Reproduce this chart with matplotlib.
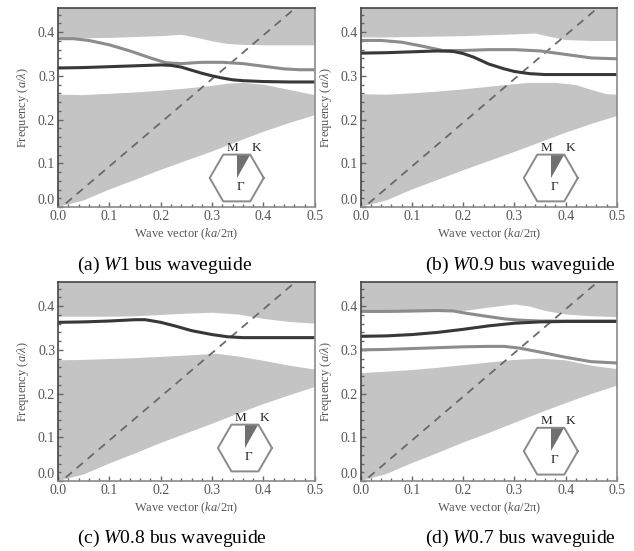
import matplotlib
matplotlib.use("Agg")
import matplotlib.pyplot as plt
import numpy as np
from matplotlib.ticker import MultipleLocator

plt.rcParams['font.family'] = ['Liberation Serif', 'DejaVu Serif']
plt.rcParams['mathtext.fontset'] = 'custom'
plt.rcParams['mathtext.rm'] = 'Liberation Serif'
plt.rcParams['mathtext.it'] = 'Liberation Serif:italic'

band_c = "#c4c4c4"
dark_c = "#383838"
gray_c = "#8c8c8c"
light_c = "#6a6a6a"

# light line (dashed)
light_k = [0.015, 0.5]
light_f = [0.008, 0.493]

# ---- (a) W1 ----
a_up_k = [0, 0.05, 0.1, 0.15, 0.2, 0.24, 0.27, 0.3, 0.33, 0.36, 0.4, 0.45, 0.5]
a_up_f = [0.387, 0.387, 0.388, 0.390, 0.392, 0.395, 0.388, 0.380, 0.374, 0.372, 0.371, 0.371, 0.371]
a_lo_top_k = [0, 0.05, 0.1, 0.15, 0.2, 0.25, 0.3, 0.33, 0.36, 0.4, 0.45, 0.5]
a_lo_top_f = [0.257, 0.256, 0.259, 0.262, 0.266, 0.271, 0.277, 0.282, 0.284, 0.280, 0.268, 0.256]
a_lo_bot_k = [0, 0.05, 0.1, 0.15, 0.2, 0.25, 0.3, 0.35, 0.4, 0.45, 0.5]
a_lo_bot_f = [0, 0.015, 0.040, 0.062, 0.085, 0.106, 0.127, 0.150, 0.172, 0.192, 0.210]
a_dark_k = [0, 0.05, 0.1, 0.15, 0.2, 0.22, 0.24, 0.26, 0.28, 0.3, 0.32, 0.34, 0.36, 0.4, 0.45, 0.5]
a_dark_f = [0.318, 0.319, 0.321, 0.323, 0.325, 0.324, 0.320, 0.313, 0.306, 0.300, 0.295, 0.291, 0.289, 0.287, 0.286, 0.286]
a_gray_k = [0, 0.03, 0.06, 0.1, 0.14, 0.18, 0.21, 0.24, 0.28, 0.32, 0.36, 0.4, 0.44, 0.47, 0.5]
a_gray_f = [0.385, 0.385, 0.381, 0.371, 0.357, 0.341, 0.330, 0.328, 0.331, 0.331, 0.328, 0.322, 0.316, 0.314, 0.314]

# ---- (b) W0.9 ----
b_up_k = [0, 0.05, 0.1, 0.15, 0.2, 0.25, 0.3, 0.34, 0.37, 0.4, 0.45, 0.5]
b_up_f = [0.389, 0.389, 0.390, 0.391, 0.392, 0.394, 0.396, 0.398, 0.390, 0.383, 0.381, 0.381]
b_lo_top_k = [0, 0.05, 0.1, 0.15, 0.2, 0.25, 0.3, 0.33, 0.38, 0.42, 0.45, 0.48, 0.5]
b_lo_top_f = [0.258, 0.257, 0.260, 0.264, 0.269, 0.275, 0.281, 0.284, 0.284, 0.279, 0.268, 0.258, 0.257]
b_lo_bot_k = [0, 0.05, 0.1, 0.15, 0.2, 0.25, 0.3, 0.35, 0.4, 0.45, 0.5]
b_lo_bot_f = [0, 0.015, 0.040, 0.062, 0.084, 0.105, 0.126, 0.148, 0.170, 0.190, 0.208]
b_dark_k = [0, 0.05, 0.1, 0.15, 0.18, 0.2, 0.22, 0.25, 0.28, 0.3, 0.33, 0.36, 0.4, 0.5]
b_dark_f = [0.352, 0.353, 0.355, 0.357, 0.356, 0.351, 0.343, 0.327, 0.316, 0.310, 0.305, 0.303, 0.303, 0.303]
b_gray_k = [0, 0.04, 0.08, 0.12, 0.16, 0.2, 0.25, 0.3, 0.35, 0.4, 0.45, 0.5]
b_gray_f = [0.381, 0.381, 0.377, 0.368, 0.358, 0.358, 0.360, 0.360, 0.357, 0.349, 0.341, 0.339]

# ---- (c) W0.8 ----
c_up_k = [0, 0.05, 0.1, 0.15, 0.2, 0.25, 0.3, 0.35, 0.4, 0.45, 0.5]
c_up_f = [0.377, 0.377, 0.377, 0.378, 0.381, 0.384, 0.386, 0.382, 0.372, 0.365, 0.361]
c_lo_top_k = [0, 0.05, 0.1, 0.15, 0.2, 0.25, 0.31, 0.35, 0.4, 0.45, 0.5]
c_lo_top_f = [0.276, 0.277, 0.279, 0.281, 0.284, 0.287, 0.291, 0.285, 0.275, 0.264, 0.255]
c_lo_bot_k = [0, 0.05, 0.1, 0.15, 0.2, 0.25, 0.3, 0.35, 0.4, 0.45, 0.5]
c_lo_bot_f = [0, 0.015, 0.040, 0.063, 0.087, 0.109, 0.131, 0.154, 0.176, 0.196, 0.215]
c_dark_k = [0, 0.05, 0.1, 0.15, 0.17, 0.2, 0.23, 0.26, 0.3, 0.33, 0.36, 0.4, 0.5]
c_dark_f = [0.363, 0.364, 0.366, 0.369, 0.369, 0.363, 0.354, 0.344, 0.335, 0.330, 0.328, 0.328, 0.328]

# ---- (d) W0.7 ----
d_up_k = [0, 0.05, 0.1, 0.15, 0.2, 0.25, 0.3, 0.33, 0.36, 0.4, 0.45, 0.5]
d_up_f = [0.386, 0.386, 0.387, 0.388, 0.390, 0.398, 0.405, 0.400, 0.390, 0.382, 0.378, 0.376]
d_lo_top_k = [0, 0.05, 0.1, 0.15, 0.2, 0.25, 0.3, 0.35, 0.4, 0.45, 0.5]
d_lo_top_f = [0.247, 0.250, 0.254, 0.259, 0.265, 0.271, 0.277, 0.280, 0.276, 0.264, 0.256]
d_lo_bot_k = [0, 0.05, 0.1, 0.15, 0.2, 0.25, 0.3, 0.35, 0.4, 0.45, 0.5]
d_lo_bot_f = [0, 0.016, 0.041, 0.064, 0.088, 0.110, 0.133, 0.156, 0.178, 0.199, 0.218]
d_dark_k = [0, 0.05, 0.1, 0.15, 0.2, 0.25, 0.3, 0.35, 0.4, 0.45, 0.5]
d_dark_f = [0.331, 0.332, 0.335, 0.340, 0.347, 0.355, 0.361, 0.364, 0.365, 0.365, 0.365]
d_gray1_k = [0, 0.05, 0.1, 0.15, 0.18, 0.21, 0.25, 0.28, 0.31, 0.35, 0.4, 0.5]
d_gray1_f = [0.388, 0.388, 0.389, 0.390, 0.389, 0.383, 0.376, 0.371, 0.368, 0.366, 0.366, 0.366]
d_gray2_k = [0, 0.05, 0.1, 0.15, 0.2, 0.25, 0.28, 0.31, 0.35, 0.4, 0.45, 0.5]
d_gray2_f = [0.300, 0.301, 0.303, 0.305, 0.307, 0.308, 0.308, 0.304, 0.295, 0.283, 0.273, 0.270]

captions = [r"(a) $W$1 bus waveguide", r"(b) $W$0.9 bus waveguide",
            r"(c) $W$0.8 bus waveguide", r"(d) $W$0.7 bus waveguide"]

W, H = 634, 551
fig = plt.figure(figsize=(W / 100, H / 100), dpi=100)


def draw_bz(fig, ax, cx, cy, R=27):
    # small Brillouin-zone sketch (hexagon + irreducible wedge)
    bb = ax.get_position()
    axw, axh = bb.width * W, bb.height * H
    x0 = cx - 1.45 * R / axw
    y0 = cy - 1.15 * R / axh
    ins = ax.inset_axes([x0, y0, 2.9 * R / axw, 2.6 * R / axh])
    ang = np.deg2rad(np.arange(0, 361, 60))
    ins.plot(np.cos(ang), np.sin(ang), color="#8a8a8a", lw=1.4)
    s = np.sqrt(3) / 2
    ins.fill([0, 0, 0.5], [0, s, s], color="#707070", lw=0)
    ins.text(-0.16, s + 0.02, "M", ha="center", va="bottom", fontsize=9.5, color="#222222")
    ins.text(0.72, s + 0.02, "K", ha="center", va="bottom", fontsize=9.5, color="#222222")
    ins.text(0.14, -0.12, "Γ", ha="center", va="top", fontsize=9.5, color="#222222")
    ins.set_xlim(-1.45, 1.45)
    ins.set_ylim(-1.15, 1.45)
    ins.axis("off")


def yfmt(v, p):
    # the 0.0 label is drawn separately, lifted above the x "0.0"
    return "" if abs(v) < 1e-9 else "%.1f" % v


def draw_panel(ax, up, lo_top, lo_bot, modes):
    ax.fill_between(up[0], up[1], 1.0, color=band_c, lw=0)
    ax.fill(lo_top[0] + lo_bot[0][::-1], lo_top[1] + lo_bot[1][::-1], color=band_c, lw=0)
    ax.plot(light_k, light_f, color=light_c, lw=1.3, dashes=(4.5, 3.5))
    for k, f, c in modes:
        ax.plot(k, f, color=c, lw=2.2, solid_capstyle="butt")
    ax.set_xlim(0, 0.5)
    ax.set_ylim(0, 0.455)
    ax.xaxis.set_major_locator(MultipleLocator(0.1))
    ax.xaxis.set_minor_locator(MultipleLocator(0.02))
    ax.yaxis.set_major_locator(MultipleLocator(0.1))
    ax.yaxis.set_minor_locator(MultipleLocator(0.02))
    ax.xaxis.set_major_formatter(lambda v, p: "%.1f" % v)
    ax.yaxis.set_major_formatter(yfmt)
    ax.tick_params(which="both", direction="in", color="#666666", labelcolor="#555555",
                   labelsize=10, top=False, right=False)
    ax.tick_params(which="major", length=3.5, width=1, pad=2)
    ax.tick_params(which="minor", length=2, width=1)
    ax.annotate("0.0", xy=(0, 0), xycoords="axes fraction", xytext=(-2.5, 4.5),
                textcoords="offset points", ha="right", va="center",
                fontsize=10, color="#555555")
    for side in ["left", "top"]:
        ax.spines[side].set_color("#444444")
        ax.spines[side].set_linewidth(1.2)
    for side in ["right", "bottom"]:
        ax.spines[side].set_color("#8a8a8a")
        ax.spines[side].set_linewidth(1.2)
    ax.set_xlabel("Wave vector ($ka$/2π)", fontsize=9, color="#555555", labelpad=3)
    ax.set_ylabel(r"Frequency ($a/\lambda$)", fontsize=9, color="#555555", labelpad=5)


positions = [[0.0915, 0.6243, 0.405, 0.361], [0.569, 0.6243, 0.404, 0.361],
             [0.0915, 0.127, 0.405, 0.361], [0.569, 0.127, 0.404, 0.361]]
axs = [fig.add_axes(p) for p in positions]

draw_panel(axs[0], (a_up_k, a_up_f), (a_lo_top_k, a_lo_top_f), (a_lo_bot_k, a_lo_bot_f),
           [(a_gray_k, a_gray_f, gray_c), (a_dark_k, a_dark_f, dark_c)])
draw_panel(axs[1], (b_up_k, b_up_f), (b_lo_top_k, b_lo_top_f), (b_lo_bot_k, b_lo_bot_f),
           [(b_gray_k, b_gray_f, gray_c), (b_dark_k, b_dark_f, dark_c)])
draw_panel(axs[2], (c_up_k, c_up_f), (c_lo_top_k, c_lo_top_f), (c_lo_bot_k, c_lo_bot_f),
           [(c_dark_k, c_dark_f, dark_c)])
draw_panel(axs[3], (d_up_k, d_up_f), (d_lo_top_k, d_lo_top_f), (d_lo_bot_k, d_lo_bot_f),
           [(d_gray1_k, d_gray1_f, gray_c), (d_gray2_k, d_gray2_f, gray_c), (d_dark_k, d_dark_f, dark_c)])

bz_centers = [(0.696, 0.146), (0.742, 0.146), (0.728, 0.166), (0.742, 0.15)]
for ax, (cx, cy) in zip(axs, bz_centers):
    draw_bz(fig, ax, cx, cy)

cap_pos = [(77, 265), (425, 265), (77, 538), (425, 538)]
for (x, y), txt in zip(cap_pos, captions):
    fig.text(x / W, 1 - y / H, txt, ha="left", va="center", fontsize=14, color="black")

fig.savefig("out.png", dpi=100)
